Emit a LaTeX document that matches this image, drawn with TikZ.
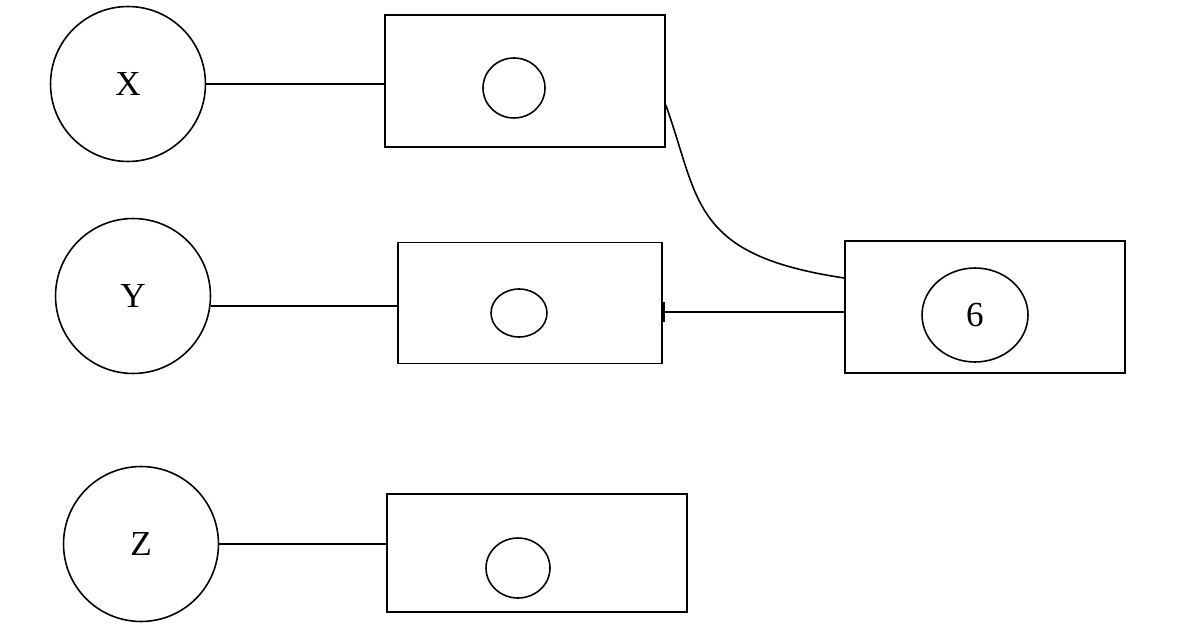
\documentclass[tikz,border=0pt]{standalone}
\usepackage{fontspec}
\setmainfont{Liberation Serif}
\usetikzlibrary{positioning, calc, shapes}
\begin{document}
\begin{tikzpicture} [x = 0.02cm, y = -0.02cm, line width = 0.9pt, font = \fontsize{20}{24}\selectfont]

\useasboundingbox (0,0) rectangle (1199,628);

\node [draw, circle, minimum size = 3.1cm] (x) at (128,84) {X};
\node [draw, circle, minimum size = 3.1cm] (y) at (133,296) {Y};
\node [draw, circle, minimum size = 3.1cm] (z) at (141,544) {Z};

\node [draw, rectangle, minimum width = 5.6cm, minimum height = 2.64cm] (bx) at (525,81) {};
\node [draw, rectangle, minimum width = 5.28cm, minimum height = 2.42cm] (by) at (530,303) {};
\node [draw, rectangle, minimum width = 6cm, minimum height = 2.36cm] (bz) at (537,553) {};
\node [draw, rectangle, minimum width = 5.6cm, minimum height = 2.64cm] (b6) at (985,307) {};

\node [draw, ellipse, minimum width = 1.24cm, minimum height = 1.2cm] (cx) at (514,88) {};
\node [draw, ellipse, minimum width = 1.12cm, minimum height = 0.96cm] (cy) at (519,313) {};
\node [draw, ellipse, minimum width = 1.28cm, minimum height = 1.2cm] (cz) at (518,568) {};
\node [draw, ellipse, minimum width = 2.12cm, minimum height = 1.88cm] (c6) at (975,315) {6};

\draw (x.east) -- (x.east -| bx.west);
\draw (y.east |- 0,306) -- (by.west |- 0,306);
\draw (z.east) -- (z.east -| bz.west);
\draw (b6.west |- 0,312) -- (by.east |- 0,312);
\draw [line width = 2pt] ($(by.east |- 0,312)+(0,-10)$) -- ($(by.east |- 0,312)+(0,10)$);
\draw ($(bx.east)+(0,24)$) .. controls (700,200) and (690,255) .. ($(b6.west)+(0,-29)$);

\end{tikzpicture}
\end{document}
